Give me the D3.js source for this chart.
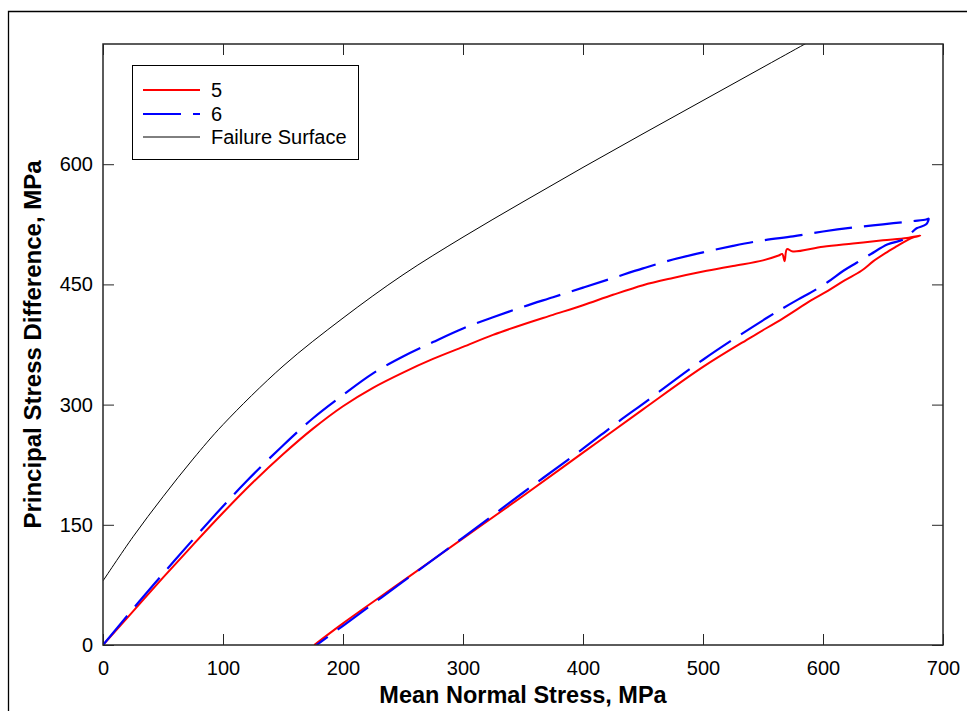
<!DOCTYPE html>
<html>
<head>
<meta charset="utf-8">
<script src="https://cdn.jsdelivr.net/npm/d3@7"></script>
<style>
  html, body { margin: 0; padding: 0; background: #fff; }
  svg { display: block; font-family: "Liberation Sans", Arial, Helvetica, sans-serif; }
</style>
</head>
<body>
<svg id="chart" width="967" height="711"></svg>
<script>
// ---------- data ----------
const xTicks = [0, 100, 200, 300, 400, 500, 600, 700];
const yTicks = [0, 150, 300, 450, 600];

const failureX = [0, 25, 50, 75, 100, 150, 200, 250, 300, 350, 400, 450, 500, 550, 600];
const failureY = [80, 135, 185, 232, 275, 348, 408, 462, 509, 553, 596, 638, 679.5, 721, 762.5];

const red5X = [0, 25, 50, 75, 100, 125, 150, 175, 200, 225, 250, 275, 300, 325, 350, 375, 400, 425, 450, 475, 500, 525, 550, 563, 566, 568, 570, 575, 600, 625, 650, 670, 681,
               676, 670, 662, 652, 642, 632, 618, 604, 590, 567, 540, 500, 450, 400, 350, 300, 250, 200, 176];
const red5Y = [0, 42, 84, 125, 165, 203, 238, 270, 298, 321, 340, 357, 372, 387, 400, 412, 424, 437, 449, 458, 466, 473, 480, 486, 488, 479, 494, 491, 497, 501, 505, 508, 511,
               509, 505, 498, 489, 479, 467, 455, 442, 430, 408, 384, 347, 294, 240, 186, 133, 80, 27, 0];

const blue6X = [0, 30, 60, 95, 120, 150, 175, 200, 225, 250, 275, 300, 325, 350, 375, 400, 425, 450, 475, 500, 525, 550, 575, 600, 625, 650, 675, 686, 688,
                686, 678, 674, 670, 667, 654, 640, 628, 617, 604, 590, 579, 553, 500, 450, 428, 400, 350, 300, 250, 200, 178];
const blue6Y = [0, 54, 106, 165, 205, 249, 283, 312, 339, 360, 378, 395, 409, 422, 434, 446, 458, 470, 481, 490, 498, 505, 510, 516, 521, 525, 529, 531, 532,
                525, 520, 515, 510, 506, 500, 488, 477, 467, 453, 440, 431, 408, 356, 301, 277, 245, 190, 134, 79, 24, 0];

const legendLabels = ["5", "6", "Failure Surface"];
const seriesColors = ["#ff0000", "#0000ff", "#000000"];

// ---------- layout ----------
const svg = d3.select("#chart");
const W = 967, H = 711;
const plot = { left: 103, top: 44, right: 943, bottom: 645 };

const x = d3.scaleLinear().domain([0, 700]).range([plot.left, plot.right]);
const y = d3.scaleLinear().domain([0, 750]).range([plot.bottom, plot.top]);

// outer figure frame
svg.append("path")
  .attr("d", `M8.5,${H} L8.5,11.5 L${W},11.5`)
  .attr("fill", "none").attr("stroke", "#000").attr("stroke-width", 1.3);

// clip
svg.append("defs").append("clipPath").attr("id", "clip")
  .append("rect").attr("x", plot.left).attr("y", plot.top)
  .attr("width", plot.right - plot.left).attr("height", plot.bottom - plot.top);

const axisColor = "#262626";
const fontSize = 20;

// axes (ticks pointing inward)
const gx = svg.append("g").attr("transform", `translate(0,${plot.bottom})`)
  .call(d3.axisBottom(x).tickValues(xTicks).tickSize(-11).tickSizeOuter(0).tickPadding(16).tickFormat(d3.format("d")));
const gxTop = svg.append("g").attr("transform", `translate(0,${plot.top})`)
  .call(d3.axisTop(x).tickValues(xTicks).tickSize(-11).tickSizeOuter(0).tickFormat(""));
const gy = svg.append("g").attr("transform", `translate(${plot.left},0)`)
  .call(d3.axisLeft(y).tickValues(yTicks).tickSize(-11).tickSizeOuter(0).tickPadding(10).tickFormat(d3.format("d")));
const gyRight = svg.append("g").attr("transform", `translate(${plot.right},0)`)
  .call(d3.axisRight(y).tickValues(yTicks).tickSize(-11).tickSizeOuter(0).tickFormat(""));

[gx, gxTop, gy, gyRight].forEach(g => {
  g.select(".domain").remove();
  g.selectAll(".tick line").attr("stroke", axisColor).attr("stroke-width", 1);
  g.selectAll(".tick text").attr("fill", "#000").style("font-size", fontSize + "px")
    .style("font-family", '"Liberation Sans", Arial, sans-serif');
});

// data lines
const dataG = svg.append("g").attr("clip-path", "url(#clip)");
const smooth = d3.line().x(d => x(d[0])).y(d => y(d[1])).curve(d3.curveCatmullRom.alpha(0.5));

const failure = failureX.map((v, i) => [v, failureY[i]]);
const red5 = red5X.map((v, i) => [v, red5Y[i]]);
const blue6 = blue6X.map((v, i) => [v, blue6Y[i]]);

dataG.append("path").datum(failure).attr("d", smooth)
  .attr("fill", "none").attr("stroke", seriesColors[2]).attr("stroke-width", 1);
dataG.append("path").datum(red5).attr("d", smooth)
  .attr("fill", "none").attr("stroke", seriesColors[0]).attr("stroke-width", 2)
  .attr("stroke-linejoin", "round");
dataG.append("path").datum(blue6).attr("d", smooth)
  .attr("fill", "none").attr("stroke", seriesColors[1]).attr("stroke-width", 2.2)
  .attr("stroke-dasharray", "38,12").attr("stroke-linejoin", "round");

// plot box
svg.append("rect")
  .attr("x", plot.left).attr("y", plot.top)
  .attr("width", plot.right - plot.left).attr("height", plot.bottom - plot.top)
  .attr("fill", "none").attr("stroke", axisColor).attr("stroke-width", 1.5);

// axis titles
svg.append("text")
  .attr("x", (plot.left + plot.right) / 2).attr("y", 703)
  .attr("text-anchor", "middle").attr("font-weight", "bold").attr("font-size", 23.5)
  .text("Mean Normal Stress, MPa");
svg.append("text")
  .attr("transform", `translate(41,${(plot.top + plot.bottom) / 2}) rotate(-90)`)
  .attr("text-anchor", "middle").attr("font-weight", "bold").attr("font-size", 24)
  .text("Principal Stress Difference, MPa");

// legend
const lg = svg.append("g");
lg.append("rect").attr("x", 132.5).attr("y", 65.5).attr("width", 226).attr("height", 94)
  .attr("fill", "#fff").attr("stroke", "#000").attr("stroke-width", 1);
const rowsY = [90, 114, 137];
const widths = [2, 2.2, 1];
const dashes = [null, "38,12", null];
legendLabels.forEach((lab, i) => {
  const l = lg.append("line").attr("x1", 143).attr("x2", 200).attr("y1", rowsY[i]).attr("y2", rowsY[i])
    .attr("stroke", seriesColors[i]).attr("stroke-width", widths[i]);
  if (dashes[i]) l.attr("stroke-dasharray", dashes[i]);
  lg.append("text").attr("x", 211).attr("y", rowsY[i]).attr("dy", "0.36em")
    .attr("font-size", fontSize).text(lab);
});
</script>
</body>
</html>
